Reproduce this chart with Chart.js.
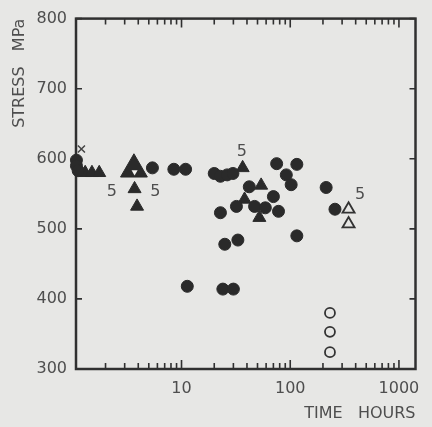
<!DOCTYPE html>
<html>
<head>
<meta charset="utf-8">
<script src="https://cdn.jsdelivr.net/npm/chart.js@4.4.1/dist/chart.umd.min.js"></script>
<style>
  html, body { margin: 0; padding: 0; background: #e7e7e5; }
  #wrap { width: 432px; height: 427px; }
</style>
</head>
<body>
<div id="wrap"><canvas id="myChart" width="432" height="427"></canvas></div>
<script>
// time to failure (hours) and stress (MPa) for each specimen group
var solidCircleX = [1.08, 1.08, 1.12, 5.4, 8.5, 10.9, 20, 22.8, 26.3, 29.7, 75, 115, 92, 102, 214, 258,
                    42, 70, 22.8, 32, 47, 59, 78, 115, 25, 33, 11.3, 24, 30];
var solidCircleY = [598, 590, 583, 587, 585, 585, 579, 575, 577, 579, 593, 592, 577, 563, 559, 528,
                    560, 546, 523, 532, 532, 530, 525, 490, 478, 484, 418, 414, 414];

var solidTriX = [1.3, 1.5, 1.75, 3.7, 3.9, 36.5, 54, 38, 52];
var solidTriY = [580, 580, 580, 557, 532, 587, 562, 542, 516];

var bigTriX = [3.65];
var bigTriY = [585];

var innerTriX = [3.7];
var innerTriY = [581];

var openTriX = [344, 344];
var openTriY = [528, 507];

var openCircleX = [232, 232, 232];
var openCircleY = [380, 353, 324];

var crossX = [1.2];
var crossY = [614];

// specimen counts written beside some points
var countX = [2.28, 5.74, 35.8, 440];
var countY = [553, 553, 610, 549];
var countText = ["5", "5", "5", "5"];

var yTicks = [300, 400, 500, 600, 700, 800];
var xTicks = [10, 100, 1000];

var bg = "#e7e7e5";
var ink = "#2a2a2a";
var textColor = "#4e4e4e";

function pts(xs, ys) {
    var out = [];
    for (i = 0; i < xs.length; i++) {
        out.push({x: xs[i], y: ys[i]});
    }
    return out;
}

// frame, inward ticks and the count numbers
var framePlugin = {
    id: "frame",
    beforeDatasetsDraw: function(chart) {
        var ctx = chart.ctx;
        var a = chart.chartArea;
        var xs = chart.scales.x;
        var ys = chart.scales.y;
        ctx.save();
        ctx.strokeStyle = "#303030";
        ctx.lineWidth = 2.5;
        ctx.strokeRect(a.left, a.top, a.right - a.left, a.bottom - a.top);

        ctx.lineWidth = 1.6;
        ctx.beginPath();
        // y ticks on both sides
        for (i = 0; i < yTicks.length; i++) {
            var py = ys.getPixelForValue(yTicks[i]);
            ctx.moveTo(a.left, py); ctx.lineTo(a.left + 6, py);
            ctx.moveTo(a.right, py); ctx.lineTo(a.right - 6, py);
        }
        // log ticks on top and bottom
        for (var d = 1; d <= 1000; d *= 10) {
            for (var m = 1; m <= 9; m++) {
                var v = d * m;
                if (v < xs.min || v > xs.max) continue;
                var px = xs.getPixelForValue(v);
                var len = m == 1 ? 9 : 6;
                ctx.moveTo(px, a.bottom); ctx.lineTo(px, a.bottom - len);
                ctx.moveTo(px, a.top); ctx.lineTo(px, a.top + len);
            }
        }
        ctx.stroke();
        ctx.restore();
    },
    afterDatasetsDraw: function(chart) {
        var ctx = chart.ctx;
        var xs = chart.scales.x;
        var ys = chart.scales.y;
        ctx.save();
        ctx.fillStyle = textColor;
        ctx.font = "16px 'DejaVu Sans'";
        ctx.textAlign = "center";
        ctx.textBaseline = "middle";
        for (i = 0; i < countX.length; i++) {
            ctx.fillText(countText[i], xs.getPixelForValue(countX[i]), ys.getPixelForValue(countY[i]));
        }
        ctx.restore();
    }
};

Chart.defaults.font.family = "'DejaVu Sans'";
Chart.defaults.font.size = 16;
Chart.defaults.color = textColor;

// first dataset is painted last, so the small open triangle sits on the big one
const chart = new Chart(document.getElementById("myChart"), {
    type: "scatter",
    data: {
        datasets: [{
            data: pts(innerTriX, innerTriY),
            pointStyle: "triangle", pointRotation: 180, pointRadius: 3.5,
            backgroundColor: "#f2f2f0", borderWidth: 0
        }, {
            data: pts(bigTriX, bigTriY),
            pointStyle: "triangle", pointRadius: 15.5,
            backgroundColor: ink, borderColor: ink, borderWidth: 1
        }, {
            data: pts(solidCircleX, solidCircleY),
            pointStyle: "circle", pointRadius: 6,
            backgroundColor: ink, borderColor: ink, borderWidth: 1
        }, {
            data: pts(solidTriX, solidTriY),
            pointStyle: "triangle", pointRadius: 7.5,
            backgroundColor: ink, borderColor: ink, borderWidth: 1
        }, {
            data: pts(openTriX, openTriY),
            pointStyle: "triangle", pointRadius: 7,
            backgroundColor: bg, borderColor: "#333", borderWidth: 1.8
        }, {
            data: pts(openCircleX, openCircleY),
            pointStyle: "circle", pointRadius: 5,
            backgroundColor: bg, borderColor: "#333", borderWidth: 1.8
        }, {
            data: pts(crossX, crossY),
            pointStyle: "crossRot", pointRadius: 5,
            borderColor: "#444", borderWidth: 1.5
        }]
    },
    options: {
        responsive: false,
        animation: false,
        events: [],
        layout: { padding: { top: 14, right: 6, left: 0, bottom: 0 } },
        datasets: { scatter: { clip: false } },
        plugins: {
            legend: { display: false },
            tooltip: { enabled: false }
        },
        scales: {
            x: {
                type: "logarithmic",
                min: 1.07,
                max: 1420,
                grid: { display: false, drawTicks: false },
                border: { display: false },
                afterBuildTicks: function(s) {
                    s.ticks = xTicks.map(function(v) { return {value: v}; });
                },
                afterFit: function(s) { s.height = 58; },
                ticks: {
                    padding: 10,
                    maxRotation: 0,
                    callback: function(v) { return String(v); }
                },
                title: {
                    display: true,
                    text: "TIME   HOURS",
                    align: "end",
                    padding: { top: 0, bottom: 4 }
                }
            },
            y: {
                min: 300,
                max: 800,
                grid: { display: false, drawTicks: false },
                border: { display: false },
                afterBuildTicks: function(s) {
                    s.ticks = yTicks.map(function(v) { return {value: v}; });
                },
                afterFit: function(s) { s.width = 76; },
                ticks: { padding: 9 },
                title: {
                    display: true,
                    text: "STRESS   MPa",
                    align: "end",
                    padding: { top: 10, bottom: 0 }
                }
            }
        }
    },
    plugins: [framePlugin]
});
</script>
</body>
</html>
